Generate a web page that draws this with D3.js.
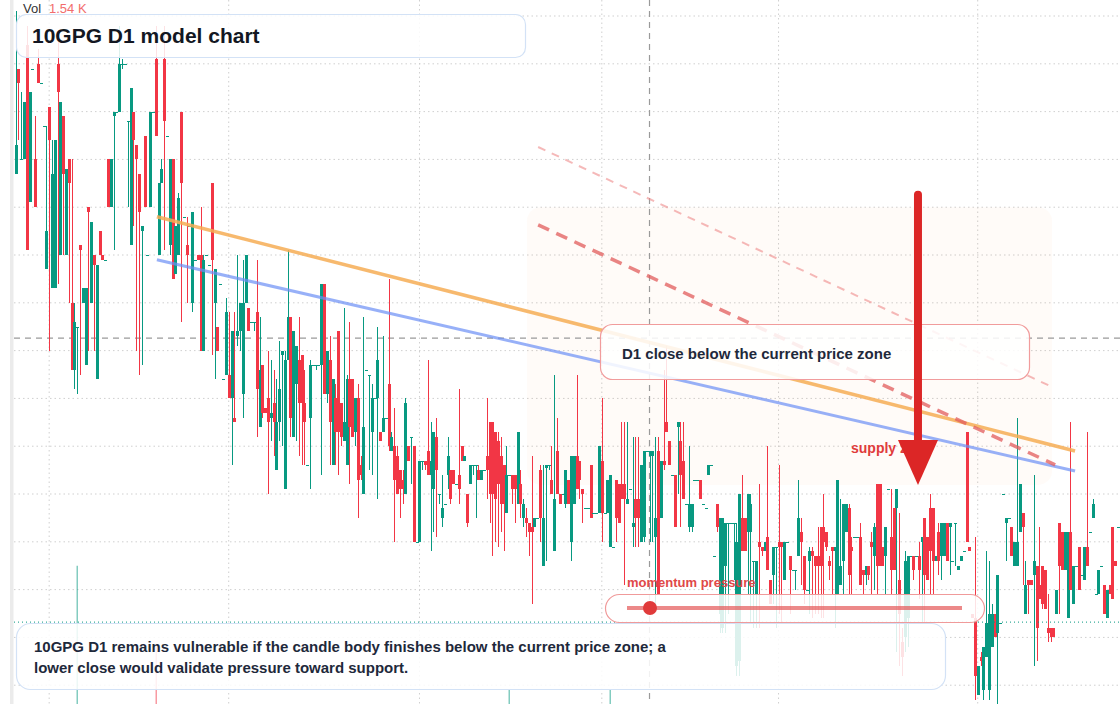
<!DOCTYPE html>
<html lang="en">
<head>
<meta charset="UTF-8">
<title>10GPG D1 model chart</title>
<script src="https://cdn.jsdelivr.net/npm/d3@7/dist/d3.min.js"></script>
<style>
    body { margin: 0; background: #ffffff; }
    svg { display: block; font-family: "Liberation Sans", Arial, sans-serif; }
</style>
</head>
<body>
<div id="container"></div>
<script>

    // daily candles, [open, high, low, close]
    const ohlc = [
        [2.07,2.41,2.07,2.13],[2.29,2.29,2.14,2.26],[2.10,2.24,2.10,2.10],[2.10,2.22,2.10,2.22],[2.34,2.38,1.91,1.91],
        [2.01,2.24,2.01,2.24],[2.29,2.29,2.29,2.29],[2.10,2.19,2.00,2.00],[2.30,2.33,2.26,2.26],[2.26,2.26,2.26,2.26],
        [2.17,2.17,2.17,2.17],[1.87,2.17,1.87,1.95],[2.21,2.21,1.70,2.14],[1.83,2.14,1.83,2.07],[1.83,2.14,1.83,2.14],
        [2.30,2.37,1.84,2.24],[1.90,2.22,1.90,2.22],[2.19,2.19,1.90,2.07],[1.90,2.08,1.90,2.08],[2.10,2.10,1.80,2.05],
        [1.80,2.10,1.66,1.66],[1.66,1.80,1.62,1.76],[1.75,1.75,1.61,1.75],[1.92,1.92,1.65,1.91],[1.80,1.83,1.80,1.83],
        [1.67,1.83,1.67,1.83],[2.00,2.00,1.70,1.99],[1.80,1.97,1.80,1.97],[1.90,1.90,1.70,1.88],[1.64,1.88,1.64,1.88],
        [1.95,1.95,1.90,1.90],[1.90,1.90,1.89,1.89],[1.89,1.89,1.89,1.89],
        [2.10,2.10,2.00,2.00],[2.00,2.10,2.00,2.10],[2.19,2.20,1.91,2.20],[2.20,2.20,2.20,2.20],[2.20,2.38,2.20,2.30],
        [2.30,2.31,2.29,2.30],[2.30,2.30,2.30,2.30],[2.18,2.18,2.00,2.18],[1.92,2.25,1.92,2.25],[2.20,2.20,1.96,2.14],
        [2.13,2.13,1.70,2.10],[2.07,2.07,1.65,1.99],[1.95,1.96,1.67,1.96],[2.15,2.15,2.00,2.00],[1.90,1.90,1.90,1.90],
        [2.00,2.20,2.00,2.20],[2.20,2.20,2.20,2.20],[2.31,2.38,2.15,2.15],[1.90,2.05,1.90,2.05],[2.05,2.10,2.05,2.08],
        [2.31,2.38,1.91,2.18],[2.15,2.15,2.15,2.15],[1.92,2.10,1.90,2.10],[2.10,2.10,1.85,1.85],[1.86,1.96,1.86,1.96],
        [1.90,2.03,1.90,2.02],[2.20,2.20,1.76,2.05],[1.98,1.98,1.98,1.98],[1.92,1.98,1.80,1.90],[1.96,1.96,1.96,1.96],
        [1.80,1.99,1.78,1.99],[1.89,1.89,1.89,1.89],[1.90,1.90,1.89,1.89],
        [1.90,2.00,1.70,1.70],[1.70,1.90,1.70,1.89],[1.90,1.90,1.90,1.90],[1.88,1.88,1.88,1.88],[2.05,2.05,1.69,1.89],
        [1.80,1.87,1.64,1.87],[1.75,1.75,1.70,1.70],[1.84,1.84,1.84,1.84],[1.64,1.64,1.64,1.64],[1.65,1.81,1.65,1.78],
        [1.65,1.78,1.60,1.60],[1.60,1.74,1.46,1.74],[1.56,1.78,1.55,1.55],[1.73,1.90,1.71,1.74],[1.74,1.80,1.70,1.80],
        [1.61,1.89,1.56,1.80],[1.80,1.90,1.80,1.90],[1.79,1.79,1.74,1.74],[1.76,1.76,1.76,1.76],[1.76,1.76,1.74,1.76],
        [1.78,1.89,1.52,1.62],[1.54,1.77,1.54,1.66],[1.67,1.67,1.56,1.57],[1.58,1.58,1.57,1.57],[1.60,1.70,1.40,1.55],
        [1.56,1.68,1.51,1.57],[1.59,1.66,1.48,1.55],[1.45,1.64,1.45,1.55],[1.55,1.72,1.51,1.62],[1.69,1.70,1.50,1.70],
        [1.41,1.70,1.41,1.68],[1.68,1.91,1.68,1.77],[1.77,1.77,1.52,1.56],[1.52,1.74,1.52,1.74],
        [1.63,1.71,1.51,1.71],[1.68,1.77,1.48,1.59],[1.69,1.69,1.46,1.59],[1.59,1.66,1.46,1.55],[1.46,1.46,1.46,1.46],
        [1.56,1.68,1.41,1.67],[1.67,1.67,1.67,1.67],[1.67,1.67,1.66,1.67],[1.67,1.67,1.67,1.67],[1.67,1.84,1.44,1.84],
        [1.84,1.84,1.61,1.61],[1.61,1.70,1.59,1.70],[1.68,1.73,1.46,1.55],[1.46,1.64,1.46,1.64],[1.60,1.63,1.46,1.53],
        [1.74,1.74,1.44,1.53],[1.59,1.59,1.50,1.52],[1.51,1.79,1.51,1.55],[1.46,1.65,1.46,1.64],[1.64,1.76,1.42,1.54],
        [1.64,1.64,1.52,1.52],[1.53,1.60,1.50,1.60],[1.60,1.63,1.35,1.43],[1.46,1.48,1.43,1.44],[1.40,1.77,1.40,1.54],
        [1.66,1.66,1.66,1.66],[1.65,1.65,1.45,1.65],[1.53,1.63,1.44,1.60],[1.60,1.60,1.60,1.60],[1.60,1.75,1.39,1.68],
        [1.53,1.53,1.51,1.51],[1.53,1.73,1.53,1.56],[1.56,1.56,1.56,1.56],[1.63,1.85,1.49,1.50],[1.49,1.53,1.49,1.52],
        [1.50,1.58,1.30,1.43],[1.48,1.50,1.40,1.40],[1.45,1.45,1.35,1.41],[1.43,1.45,1.38,1.41],[1.40,1.60,1.40,1.59],
        [1.50,1.50,1.47,1.47],[1.52,1.52,1.42,1.52],[1.50,1.50,1.30,1.30],[1.30,1.30,1.30,1.30],[1.30,1.47,1.30,1.47],
        [1.47,1.47,1.45,1.47],[1.47,1.47,1.45,1.46],[1.49,1.68,1.44,1.44],[1.44,1.55,1.28,1.47],[1.41,1.53,1.32,1.53],
        [1.52,1.56,1.31,1.45],[1.40,1.40,1.38,1.40],[1.35,1.44,1.33,1.37],[1.38,1.38,1.38,1.38],[1.44,1.52,1.41,1.48],
        [1.45,1.45,1.38,1.39],[1.45,1.45,1.42,1.42],[1.42,1.42,1.42,1.42],[1.44,1.62,1.38,1.41],[1.50,1.50,1.47,1.47],
        [1.47,1.48,1.47,1.48],[1.40,1.40,1.33,1.34],[1.42,1.46,1.42,1.46],[1.46,1.46,1.44,1.46],[1.46,1.46,1.35,1.46],
        [1.45,1.46,1.43,1.43],[1.43,1.45,1.43,1.45],[1.45,1.45,1.45,1.45],[1.48,1.60,1.39,1.45],[1.55,1.55,1.34,1.40],
        [1.55,1.55,1.27,1.40],[1.53,1.53,1.30,1.39],[1.51,1.53,1.29,1.42],[1.48,1.52,1.32,1.38],[1.46,1.46,1.28,1.38],
        [1.36,1.50,1.36,1.44],[1.44,1.44,1.44,1.44],[1.44,1.44,1.38,1.41],[1.44,1.44,1.34,1.41],[1.38,1.53,1.38,1.53],
        [1.42,1.45,1.35,1.38],[1.35,1.39,1.33,1.38],[1.35,1.37,1.31,1.34],[1.34,1.34,1.27,1.32],[1.33,1.48,1.17,1.32],
        [1.33,1.35,1.33,1.35],[1.35,1.35,1.35,1.35],[1.45,1.46,1.30,1.35],[1.25,1.46,1.25,1.35],[1.455,1.46,1.26,1.46],
        [1.46,1.46,1.45,1.46],[1.43,1.50,1.40,1.40],[1.28,1.65,1.28,1.39],[1.49,1.56,1.40,1.40],[1.40,1.40,1.38,1.38],
        [1.40,1.40,1.40,1.40],[1.38,1.45,1.37,1.45],[1.43,1.43,1.38,1.38],[1.30,1.48,1.26,1.48],[1.38,1.48,1.38,1.48],
        [1.48,1.65,1.41,1.41],[1.47,1.47,1.39,1.43],[1.41,1.41,1.34,1.40],[1.37,1.37,1.37,1.37],[1.37,1.37,1.37,1.37],
        [1.46,1.46,1.35,1.35],[1.36,1.36,1.36,1.36],[1.36,1.36,1.36,1.36],[1.36,1.50,1.36,1.50],[1.47,1.60,1.30,1.36],
        [1.36,1.36,1.36,1.36],[1.36,1.43,1.36,1.43],[1.29,1.44,1.29,1.44],[1.29,1.29,1.29,1.29],[1.43,1.43,1.30,1.35],
        [1.42,1.42,1.34,1.34],[1.42,1.55,1.39,1.39],[1.42,1.55,1.21,1.39],[1.38,1.55,1.38,1.39],[1.41,1.41,1.41,1.41],
        [1.33,1.52,1.29,1.34],[1.39,1.52,1.29,1.35],[1.39,1.52,1.29,1.35],[1.30,1.46,1.30,1.46],[1.31,1.49,1.30,1.49],
        [1.49,1.49,1.49,1.49],[1.48,1.49,1.30,1.49],[1.48,1.49,1.30,1.49],[1.31,1.52,1.16,1.35],[1.49,1.52,1.19,1.19],
        [1.35,1.47,1.35,1.47],[1.47,1.66,1.45,1.46],[1.55,1.71,1.53,1.53],[1.51,1.51,1.46,1.46],[1.44,1.44,1.44,1.44],
        [1.44,1.44,1.33,1.33],[1.54,1.55,1.40,1.55],[1.51,1.55,1.33,1.44],[1.47,1.55,1.39,1.39],[1.38,1.38,1.38,1.38],
        [1.33,1.50,1.32,1.38],[1.33,1.38,1.32,1.38],[1.43,1.43,1.43,1.43],[1.43,1.43,1.43,1.43],[1.43,1.43,1.39,1.39],
        [1.38,1.38,1.38,1.38],[1.37,1.37,1.37,1.37],[1.44,1.46,1.44,1.46],[1.46,1.46,1.46,1.46],[1.27,1.27,1.27,1.27],
        [1.38,1.38,1.32,1.33],[1.15,1.35,1.11,1.35],[1.12,1.35,1.11,1.35],[1.25,1.34,1.11,1.34],[1.34,1.34,1.15,1.34],
        [1.34,1.34,1.34,1.34],[1.34,1.34,1.22,1.34],[1.04,1.34,1.02,1.30],[1.05,1.40,1.02,1.40],[1.35,1.44,1.28,1.28],
        [1.35,1.35,1.28,1.28],[1.32,1.40,1.19,1.40],[1.32,1.40,1.13,1.38],[1.26,1.26,1.12,1.26],[1.19,1.26,1.12,1.26],
        [1.30,1.42,1.12,1.29],[1.29,1.29,1.27,1.28],[1.28,1.30,1.28,1.30],[1.31,1.50,1.24,1.24],[1.22,1.22,1.17,1.17],
        [1.23,1.29,1.17,1.29],[1.29,1.29,1.12,1.29],[1.30,1.46,1.15,1.29],[1.30,1.30,1.13,1.29],[1.22,1.30,1.22,1.30],
        [1.30,1.30,1.30,1.30],[1.27,1.27,1.15,1.24],[1.24,1.24,1.24,1.24],[1.24,1.24,1.20,1.24],[1.27,1.43,1.27,1.35],
        [1.32,1.35,1.21,1.30],[1.27,1.27,1.17,1.20],[1.20,1.20,1.20,1.20],[1.26,1.29,1.15,1.28],[1.28,1.29,1.14,1.27],
        [1.27,1.27,1.15,1.25],[1.27,1.33,1.15,1.25],[1.33,1.33,1.14,1.25],[1.33,1.40,1.14,1.30],[1.32,1.32,1.28,1.29],
        [1.26,1.27,1.22,1.25],[1.29,1.29,1.19,1.28],[1.28,1.29,1.12,1.29],[1.19,1.43,1.19,1.43],[1.21,1.39,1.21,1.25],
        [1.26,1.38,1.19,1.38],[1.32,1.38,1.32,1.38],[1.37,1.38,1.19,1.23],[1.29,1.31,1.19,1.28],[1.31,1.31,1.31,1.31],
        [1.31,1.31,1.31,1.31],[1.31,1.34,1.21,1.21],[1.24,1.24,1.19,1.23],[1.23,1.25,1.21,1.25],[1.25,1.25,1.22,1.23],
        [1.30,1.32,1.19,1.29],[1.27,1.34,1.20,1.33],[1.42,1.42,1.19,1.25],[1.42,1.42,1.25,1.25],[1.29,1.29,1.25,1.25],
        [1.27,1.33,1.19,1.33],[1.41,1.41,1.41,1.41],[1.31,1.41,1.19,1.24],[1.37,1.37,1.24,1.24],[1.37,1.41,1.07,1.41],
        [1.22,1.36,1.04,1.15],[1.09,1.12,1.02,1.06],[1.10,1.28,1.07,1.26],[1.14,1.27,1.08,1.27],[1.27,1.27,1.27,1.27],
        [1.27,1.27,1.22,1.24],[1.27,1.27,1.27,1.27],[1.27,1.30,1.18,1.24],[1.30,1.31,1.13,1.31],[1.35,1.35,1.13,1.23],
        [1.31,1.31,1.22,1.22],[1.37,1.40,1.19,1.28],[1.37,1.37,1.19,1.26],[1.26,1.27,1.26,1.27],[1.32,1.34,1.23,1.26],
        [1.27,1.34,1.22,1.34],[1.27,1.34,1.27,1.34],[1.34,1.34,1.26,1.26],[1.33,1.34,1.23,1.34],[1.26,1.26,1.26,1.26],
        [1.34,1.34,1.25,1.34],[1.24,1.25,1.24,1.25],[1.26,1.27,1.26,1.27],[1.28,1.28,1.28,1.28],[1.53,1.53,1.30,1.30],
        [1.29,1.29,1.28,1.28],[1.15,1.15,1.14,1.14],[1.14,1.31,0.97,1.02],[0.98,1.04,0.98,1.04],[1.06,1.07,1.04,1.05],
        [0.99,1.08,0.97,1.08],[1.06,1.28,1.06,1.13],[0.99,1.26,0.97,1.15],[1.08,1.17,1.08,1.15],[1.15,1.15,1.10,1.10],
        [1.11,1.23,0.96,1.23],[1.13,1.13,1.13,1.13],[1.40,1.40,1.40,1.40],[1.34,1.35,1.26,1.35],[1.35,1.35,1.35,1.35],
        [1.33,1.33,1.27,1.27],[1.25,1.30,1.25,1.30],[1.25,1.56,1.25,1.30],[1.32,1.42,1.32,1.42],[1.36,1.36,1.21,1.33],
        [1.15,1.26,1.15,1.21],[1.22,1.22,1.15,1.21],[1.22,1.22,1.21,1.21],[1.23,1.44,1.04,1.26],[1.25,1.25,1.05,1.12],
        [1.21,1.33,1.18,1.18],[1.25,1.25,1.16,1.17],[1.24,1.24,1.16,1.16],[1.12,1.19,1.09,1.11],[1.12,1.12,1.09,1.10],
        [1.12,1.12,1.10,1.10],[1.15,1.20,1.15,1.20],[1.34,1.34,1.15,1.25],[1.32,1.32,1.24,1.24],[1.24,1.32,1.24,1.32],
        [1.14,1.32,1.14,1.32],[1.32,1.55,1.20,1.20],[1.17,1.25,1.17,1.25],[1.25,1.25,1.25,1.25],[1.29,1.29,1.20,1.20],
        [1.23,1.23,1.23,1.23],[1.22,1.29,1.22,1.29],[1.29,1.53,1.25,1.25],[1.32,1.32,1.32,1.32],[1.35,1.39,1.35,1.38],
        [1.19,1.19,1.19,1.19],[1.19,1.24,1.19,1.24],[1.25,1.25,1.25,1.25],[1.21,1.21,1.15,1.15],[1.14,1.20,1.14,1.20],
        [1.21,1.21,1.19,1.19],[1.33,1.33,1.18,1.18],[1.26,1.26,1.25,1.25],[1.33,1.33,1.33,1.33]
    ];

    // visible volume bars: [candle index, volume in K]
    const volumeBars = [[22, 48], [50, 20], [176, 5], [212, 5]];
    const volumeLast = "1.54 K";

    // month separators (candle index)
    const monthStarts = [12, 76, 144, 209, 272, 343];

    const crosshair = {index: 226, price: 1.726};
    const lastPrice = 1.132;

    // drawings, [candle index, price]
    const trendUpper = [[50.4, 1.98], [377.7, 1.49]];
    const trendLower = [[50.4, 1.89], [377.7, 1.448]];
    const channelLight = [[186.3, 2.126], [369.5, 1.624]];
    const channelDash = [[186.3, 1.963], [370.6, 1.461]];
    const supplyZone = {from: 182.3, to: 369.5, top: 2.00, bottom: 1.419};
    const arrowDown = {index: 321.7, from: 2.026, to: 1.419};

    const title = "10GPG D1 model chart";
    const calloutText = "D1 close below the current price zone";
    const zoneLabel = "supply zone";
    const meterLabel = "momentum pressure";
    const noteLines = [
        "10GPG D1 remains vulnerable if the candle body finishes below the current price zone; a",
        "lower close would validate pressure toward support."
    ];

    const up = "#089981", down = "#f23645";

    let svg = d3.select("#container")
        .append("svg")
        .attr("width", 1120)
        .attr("height", 704)
        .style("background-color", "#ffffff");

    let x = d3.scaleLinear().domain([0, ohlc.length - 1]).range([15.5, 1118]);
    let y = d3.scaleLinear().domain([2.4335, 0.9607]).range([0, 704]);
    let yVol = d3.scaleLinear().domain([0, 50]).range([704, 560]);

    svg.append("rect")
        .attr("x", 10).attr("y", 0).attr("width", 3.5).attr("height", 704)
        .attr("fill", "#ebebeb");

    // grid
    svg.append("g").selectAll("line")
        .data(y.ticks(15))
        .join("line")
        .attr("x1", 14).attr("x2", 1120)
        .attr("y1", d => y(d)).attr("y2", d => y(d))
        .attr("stroke", "#cfcfcf")
        .attr("stroke-dasharray", "1.5,3");

    svg.append("g").selectAll("line")
        .data(monthStarts)
        .join("line")
        .attr("x1", d => x(d)).attr("x2", d => x(d))
        .attr("y1", 0).attr("y2", 704)
        .attr("stroke", "#cfcfcf")
        .attr("stroke-dasharray", "1.5,3");

    svg.append("rect")
        .attr("x", x(supplyZone.from))
        .attr("y", y(supplyZone.top))
        .attr("width", x(supplyZone.to) - x(supplyZone.from))
        .attr("height", y(supplyZone.bottom) - y(supplyZone.top))
        .attr("rx", 14)
        .attr("fill", "#fb923c")
        .attr("fill-opacity", 0.035);

    // crosshair
    svg.append("line")
        .attr("x1", 14).attr("x2", 1120)
        .attr("y1", y(crosshair.price)).attr("y2", y(crosshair.price))
        .attr("stroke", "#9a9a9a").attr("stroke-width", 1.2)
        .attr("stroke-dasharray", "6,5");
    svg.append("line")
        .attr("x1", x(crosshair.index)).attr("x2", x(crosshair.index))
        .attr("y1", 0).attr("y2", 704)
        .attr("stroke", "#9a9a9a").attr("stroke-width", 1.2)
        .attr("stroke-dasharray", "6,5");

    // volume
    svg.append("g").selectAll("rect")
        .data(volumeBars)
        .join("rect")
        .attr("x", d => Math.round(x(d[0])) - 0.5)
        .attr("width", 1.5)
        .attr("y", d => yVol(d[1]))
        .attr("height", d => yVol(0) - yVol(d[1]))
        .attr("fill", d => ohlc[d[0]][3] >= ohlc[d[0]][0] ? up : down)
        .attr("fill-opacity", 0.5);

    // candles
    let candles = svg.append("g").attr("shape-rendering", "crispEdges");
    candles.selectAll("line")
        .data(ohlc)
        .join("line")
        .attr("x1", (d, i) => Math.round(x(i)) + 0.5)
        .attr("x2", (d, i) => Math.round(x(i)) + 0.5)
        .attr("y1", d => y(Math.max(d[1], d[0], d[3])))
        .attr("y2", d => y(Math.min(d[2], d[0], d[3])))
        .attr("stroke", d => d[3] >= d[0] ? up : down)
        .attr("stroke-width", 1);
    candles.selectAll("rect")
        .data(ohlc)
        .join("rect")
        .attr("x", (d, i) => Math.round(x(i)) - 1)
        .attr("width", 3)
        .attr("y", d => y(Math.max(d[0], d[3])))
        .attr("height", d => Math.max(1, Math.abs(y(d[0]) - y(d[3]))))
        .attr("fill", d => d[3] >= d[0] ? up : down);

    svg.append("line")
        .attr("x1", 14).attr("x2", 1120)
        .attr("y1", y(lastPrice)).attr("y2", y(lastPrice))
        .attr("stroke", up).attr("stroke-width", 1)
        .attr("stroke-dasharray", "1,3");

    // trend lines
    let line = d3.line().x(d => x(d[0])).y(d => y(d[1]));
    svg.append("path").attr("d", line(trendUpper))
        .attr("fill", "none").attr("stroke", "#f6ad55")
        .attr("stroke-opacity", 0.85).attr("stroke-width", 3.5);
    svg.append("path").attr("d", line(trendLower))
        .attr("fill", "none").attr("stroke", "#6b8ef5")
        .attr("stroke-opacity", 0.7).attr("stroke-width", 3);
    svg.append("path").attr("d", line(channelLight))
        .attr("fill", "none").attr("stroke", "#ee8a8a")
        .attr("stroke-opacity", 0.6).attr("stroke-width", 2)
        .attr("stroke-dasharray", "8,7");
    svg.append("path").attr("d", line(channelDash))
        .attr("fill", "none").attr("stroke", "#e25c5c")
        .attr("stroke-opacity", 0.75).attr("stroke-width", 3.5)
        .attr("stroke-dasharray", "12,8");

    function box(bx, by, bw, bh, r, stroke) {
        svg.append("rect")
            .attr("x", bx).attr("y", by).attr("width", bw).attr("height", bh)
            .attr("rx", r)
            .attr("fill", "#ffffff").attr("fill-opacity", 0.86)
            .attr("stroke", stroke).attr("stroke-width", 1.2);
    }

    box(16.5, 14.5, 509, 43, 10, "#d3e2f6");
    box(600.5, 324.5, 429, 55, 12, "#f19c9c");
    box(605.5, 594.5, 379, 28, 14, "#f09a9a");
    box(16.5, 623.5, 929, 66, 14, "#d3e2f6");

    svg.append("text")
        .attr("x", 23).attr("y", 13)
        .attr("font-size", 13).attr("fill", "#333333")
        .text("Vol");
    svg.append("text")
        .attr("x", 49).attr("y", 13)
        .attr("font-size", 13).attr("fill", "#f26d6d")
        .text(volumeLast);

    svg.append("text")
        .attr("x", 32).attr("y", 43)
        .attr("font-size", 21).attr("font-weight", "bold").attr("fill", "#131722")
        .text(title);

    svg.append("text")
        .attr("x", 622).attr("y", 359)
        .attr("font-size", 15).attr("font-weight", "bold").attr("fill", "#1e293b")
        .text(calloutText);

    svg.append("text")
        .attr("x", 851).attr("y", 453)
        .attr("font-size", 14).attr("font-weight", "bold").attr("fill", "#e03c3c")
        .text(zoneLabel);

    // momentum meter
    svg.append("text")
        .attr("x", 627).attr("y", 587)
        .attr("font-size", 13).attr("font-weight", "bold").attr("fill", "#e04848")
        .text(meterLabel);
    svg.append("line")
        .attr("x1", 627).attr("x2", 962).attr("y1", 608).attr("y2", 608)
        .attr("stroke", "#e45757").attr("stroke-opacity", 0.7).attr("stroke-width", 4);
    svg.append("circle")
        .attr("cx", 650).attr("cy", 608).attr("r", 7)
        .attr("fill", "#e03a3a");

    svg.append("g").selectAll("text")
        .data(noteLines)
        .join("text")
        .attr("x", 34).attr("y", (d, i) => 652 + i * 21)
        .attr("font-size", 15).attr("font-weight", "bold").attr("fill", "#1e293b")
        .text(d => d);

    // arrow
    let ax = x(arrowDown.index);
    let tip = y(arrowDown.to);
    svg.append("line")
        .attr("x1", ax).attr("x2", ax)
        .attr("y1", y(arrowDown.from)).attr("y2", tip - 40)
        .attr("stroke", "#dc2626").attr("stroke-width", 8)
        .attr("stroke-linecap", "round");
    svg.append("path")
        .attr("d", `M${ax - 20},${tip - 45}L${ax + 20},${tip - 45}L${ax},${tip}Z`)
        .attr("fill", "#dc2626");

</script>
</body>
</html>
